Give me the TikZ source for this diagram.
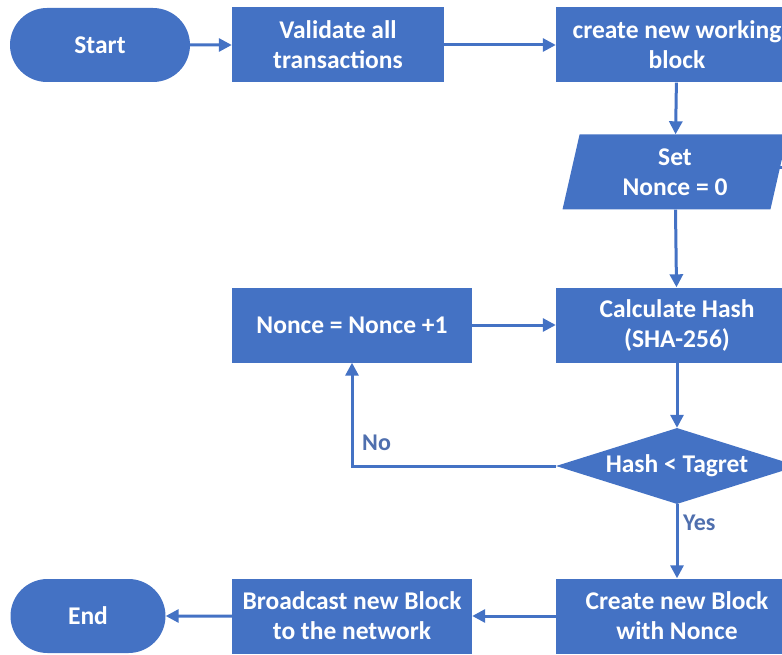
\documentclass[tikz,border=0pt]{standalone}
\usepackage{fontspec}
\setmainfont{Carlito}
\usetikzlibrary{shapes.geometric,shapes.misc,arrows.meta}
\definecolor{flowblue}{HTML}{4472C4}
\definecolor{labelblue}{HTML}{4F6FAE}

\begin{document}
\begin{tikzpicture}[x=1pt,y=-1pt,
  box/.style={fill=flowblue, text=white, font=\bfseries\fontsize{25.5}{30}\selectfont,
              align=center, inner sep=0pt},
  stepbox/.style={box, rectangle, minimum width=#1, minimum height=75pt},
  terminal/.style={box, rounded rectangle, minimum width=#1, minimum height=74pt},
  flow/.style={draw=flowblue, line width=3pt, -{Triangle[length=13pt,width=13pt]}},
  plain/.style={draw=flowblue, line width=3pt},
  lbl/.style={text=labelblue, font=\bfseries\fontsize{24}{30}\selectfont, anchor=west, inner sep=0pt}]

\useasboundingbox (0,0) rectangle (782,655);
\clip (0,0) rectangle (782,655);

% top row
\node[terminal=180pt] (start) at (100,45) {Start};
\node[stepbox=212pt] (validate) at (338,45) {Validate all\\transactions};
\node[stepbox=242pt] (working) at (677,45) {create new working\\block};

% nonce initialisation
\node[box, trapezium, trapezium left angle=70, trapezium right angle=110,
      trapezium stretches body, minimum width=225pt, minimum height=75pt]
      (setn) at (675,172) {Set\\Nonce = 0};
\coordinate (offright) at (800,168);

% hashing loop
\node[stepbox=242pt] (hash) at (677,325) {Calculate Hash\\(SHA-256)};
\node[stepbox=240pt] (incr) at (352,325) {Nonce = Nonce +1};
\node[box, diamond, aspect=3.2, minimum width=242pt, minimum height=76pt]
      (test) at (677,466) {Hash < Tagret};

% bottom row
\node[stepbox=242pt] (create) at (677,616) {Create new Block\\with Nonce};
\node[stepbox=240pt] (broadcast) at (352,616) {Broadcast new Block\\to the network};
\node[terminal=155pt] (end) at (88,616) {End};

% connectors
\draw[flow] (start) -- (validate);
\draw[flow] (validate) -- (working);
\draw[flow] (working) -- (setn);
\draw[flow] (setn) -- (hash);
\draw[plain] (setn.east |- offright) -- (offright);
\draw[flow] (incr) -- (hash);
\draw[flow] (hash) -- (test);
\draw[flow] (test.west) -| (incr.south);
\draw[flow] (test.south) -- (create.north);
\draw[flow] (create) -- (broadcast);
\draw[flow] (broadcast) -- (end);

% branch labels
\node[lbl] (nolbl) at (362,443) {No};
\node[lbl] (yeslbl) at (683,523) {Yes};
\end{tikzpicture}
\end{document}
